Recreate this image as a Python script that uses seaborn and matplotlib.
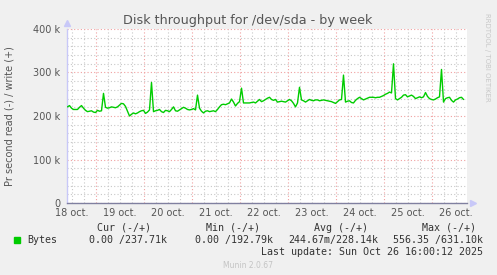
import matplotlib
matplotlib.use("Agg")
import matplotlib.pyplot as plt
import matplotlib.dates as mdates
from matplotlib.ticker import MultipleLocator, FuncFormatter
import numpy as np
import pandas as pd
import seaborn as sns

# ---------------- data ----------------
start_time = "2025-10-18 10:00"
write_k = [
    221, 224, 218, 215, 215, 215, 220, 224, 218, 213, 210, 211,
    212, 209, 208, 213, 211, 212, 252, 220, 218, 219, 221, 220,
    219, 221, 225, 229, 228, 222, 211, 200, 204, 207, 205, 207,
    210, 212, 213, 206, 209, 214, 277, 210, 212, 213, 215, 210,
    208, 213, 212, 210, 215, 221, 212, 211, 214, 217, 220, 218,
    215, 214, 215, 217, 214, 248, 218, 211, 207, 211, 212, 210,
    211, 212, 210, 215, 221, 226, 227, 226, 228, 230, 239, 232,
    223, 229, 233, 264, 230, 230, 230, 230, 231, 232, 230, 234,
    238, 233, 235, 238, 241, 243, 238, 236, 238, 232, 233, 234,
    233, 232, 235, 238, 235, 229, 221, 230, 266, 237, 235, 232,
    235, 238, 236, 235, 237, 237, 235, 236, 237, 236, 235, 234,
    233, 231, 229, 233, 237, 238, 294, 232, 234, 235, 231, 230,
    236, 240, 243, 240, 237, 239, 241, 243, 243, 243, 242, 243,
    243, 245, 247, 250, 252, 255, 253, 320, 240, 237, 240, 243,
    248, 249, 244, 246, 248, 245, 240, 242, 244, 242, 244, 254,
    245, 240, 238, 237, 239, 242, 244, 307, 232, 240, 242, 243,
    236, 232, 237, 239, 242, 243, 238,
]
y_ticks = [0, 100000, 200000, 300000, 400000]
y_tick_labels = ["0", "100 k", "200 k", "300 k", "400 k"]
title = "Disk throughput for /dev/sda - by week"
y_label = "Pr second read (-) / write (+)"
legend_series = "Bytes"
legend_headers = ["Cur (-/+)", "Min (-/+)", "Avg (-/+)", "Max (-/+)"]
legend_values = ["0.00 /237.71k", "0.00 /192.79k", "244.67m/228.14k", "556.35 /631.10k"]
last_update = "Last update: Sun Oct 26 16:00:12 2025"
footer = "Munin 2.0.67"
watermark = "RRDTOOL / TOBI OETIKER"

times = pd.date_range(start_time, periods=len(write_k), freq="h")
df = pd.DataFrame({"time": times, "bytes": np.array(write_k, dtype=float) * 1000})

# ---------------- figure ----------------
W, H = 497, 275
BG = "#F0F0F0"
sns.set_theme(style="white")
plt.rcParams["font.family"] = ["DejaVu Sans"]
fig = plt.figure(figsize=(W / 100, H / 100), dpi=100, facecolor=BG)
ax = fig.add_axes([67 / W, (H - 203) / H, 400 / W, 174 / H])
ax.set_facecolor("white")

sns.lineplot(data=df, x="time", y="bytes", ax=ax, color="#00CC00", linewidth=1.0, zorder=5)

x0 = pd.Timestamp("2025-10-18 09:45")
x1 = x0 + pd.Timedelta(hours=400 / 2)
ax.set_xlim(x0, x1)
ax.set_ylim(0, 400000)

# grids
ax.yaxis.set_major_locator(matplotlib.ticker.FixedLocator(y_ticks))
ax.yaxis.set_minor_locator(MultipleLocator(20000))
ax.set_yticklabels(y_tick_labels)
ax.xaxis.set_major_locator(mdates.DayLocator())
ax.xaxis.set_minor_locator(mdates.HourLocator(byhour=[6, 12, 18]))
ax.xaxis.set_major_formatter(FuncFormatter(lambda v, p: ""))
ax.xaxis.set_minor_formatter(
    FuncFormatter(lambda v, p: (f"{mdates.num2date(v).day} oct.")
                  if mdates.num2date(v).hour == 12 else ""))
ax.grid(which="minor", color="#C8C8C8", linestyle=(0, (1, 2)), linewidth=0.8)
ax.grid(which="major", color="#F0A0A0", linestyle=(0, (1, 2)), linewidth=0.8)
ax.set_axisbelow(True)

ax.tick_params(axis="both", which="both", length=0, colors="#555555", labelsize=7)
ax.tick_params(axis="y", which="major", pad=5)
ax.tick_params(axis="x", which="minor", pad=3.5)
ax.set_xlabel("")
ax.set_ylabel("")

for s in ["top", "right"]:
    ax.spines[s].set_visible(False)
ax.spines["left"].set_color("#C8C8F8")
ax.spines["left"].set_linewidth(1.0)
ax.spines["bottom"].set_color("#8080A0")
ax.spines["bottom"].set_linewidth(1.0)
ax.plot([0], [1.035], marker="^", color="#C8C8F8", markersize=4, transform=ax.transAxes, clip_on=False)
ax.plot([1.015], [0], marker=">", color="#C8C8F8", markersize=4, transform=ax.transAxes, clip_on=False)


def ftext(x, y, s, **kw):
    fig.text(x / W, 1 - y / H, s, **kw)


ftext(248, 24.3, title, ha="center", va="baseline", fontsize=9.2, color="#555555")
ftext(10, 116, y_label, ha="center", va="center", rotation=90, fontsize=7, color="#555555")
ftext(487, 13, watermark, ha="center", va="top", rotation=270, fontsize=5.0, color="#C8C8C8")

mono = dict(family="DejaVu Sans Mono", fontsize=7.2, color="#333333", va="center")
header_right = [151, 260, 368, 476]
value_right = [167, 273, 378, 483]
for hx, h in zip(header_right, legend_headers):
    ftext(hx, 228, h, ha="right", **mono)
for vx, v in zip(value_right, legend_values):
    ftext(vx, 240, v, ha="right", **mono)
ftext(27, 240, legend_series, ha="left", **mono)
fig.patches.append(matplotlib.patches.Rectangle((14 / W, 1 - 243 / H), 6 / W, 6 / H,
                                                transform=fig.transFigure, color="#00CC00"))
ftext(483, 252, last_update, ha="right", **mono)
ftext(248, 265, footer, ha="center", va="center", fontsize=5.5, color="#C4C4C4")

fig.savefig("out.png", dpi=100, facecolor=BG)
